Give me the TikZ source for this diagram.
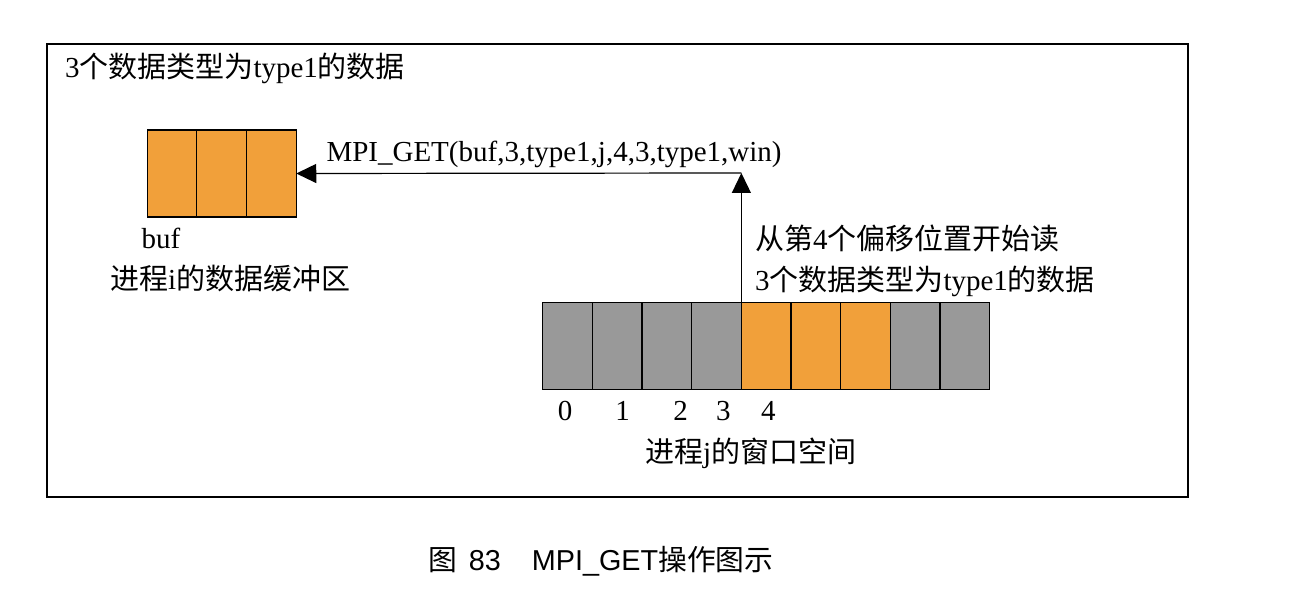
\documentclass[tikz,border=0pt]{standalone}
\usepackage{fontspec}
\setmainfont{Liberation Serif}
\newfontfamily\cjk{Noto Sans CJK SC}
\newfontfamily\capfont{Liberation Sans}
\usetikzlibrary{arrows.meta}
\definecolor{cellorange}{RGB}{241,160,58}
\definecolor{cellgray}{RGB}{153,153,153}
\tikzset{
  txt/.style={inner sep=0pt, outer sep=0pt, font=\fontsize{14.5pt}{17pt}\selectfont},
  captxt/.style={inner sep=0pt, outer sep=0pt, font=\fontsize{14.4pt}{17pt}\selectfont\capfont},
  bufcell/.style={draw=black, line width=0.6pt, fill=cellorange, minimum width=24.85pt, minimum height=43.5pt, inner sep=0pt, outer sep=0pt},
  wincell/.style={draw=black, line width=0.6pt, minimum width=24.83pt, minimum height=43.5pt, inner sep=0pt, outer sep=0pt},
  grey/.style={fill=cellgray},
  hot/.style={fill=cellorange},
  frame/.style={draw=black, line width=0.7pt},
  arr/.style={line width=0.6pt, -{Triangle[length=10pt,width=9.5pt]}}
}
\begin{document}
\begin{tikzpicture}[x=0.5pt,y=-0.5pt]
\useasboundingbox (0,0) rectangle (1290,598);
% outer frame
\draw[frame] (47,44) rectangle (1188,497);
% top-left text
\node[txt, anchor=base west] (title) at (65,78) {3{\cjk 个数据类型为}type1{\cjk 的数据}};
% buffer of process i
\node[bufcell] (b1) at (172,173.5) {};
\node[bufcell] (b2) at (221.7,173.5) {};
\node[bufcell] (b3) at (271.4,173.5) {};
\node[txt, anchor=base west] (buflbl) at (141.5,248.5) {buf};
\node[txt, anchor=base west] (bufcap) at (110,290) {{\cjk 进程}i{\cjk 的数据缓冲区}};
% window of process j
\foreach \i/\s in {0/grey,1/grey,2/grey,3/grey,4/hot,5/hot,6/hot,7/grey,8/grey}{
  \node[wincell,\s] (w\i) at ({542.7+24.83+49.67*\i},346.3) {};
}
\node[txt, anchor=base] (n0) at (565,421) {0};
\node[txt, anchor=base] (n1) at (622.7,421) {1};
\node[txt, anchor=base] (n2) at (680.7,421) {2};
\node[txt, anchor=base] (n3) at (723.3,421) {3};
\node[txt, anchor=base] (n4) at (768.3,421) {4};
\node[txt, anchor=base west] (wincap) at (645,463) {{\cjk 进程}j{\cjk 的窗口空间}};
% arrows
\coordinate (corner) at (w4.north west |- 0,173);
\draw[arr] (w4.north west) -- (corner);
\draw[arr] (corner) -- (b3.east);
\node[txt, anchor=base west] (call) at (326.5,162) {MPI\_GET(buf,3,type1,j,4,3,type1,win)};
\node[txt, anchor=base west] (note1) at (755,250) {{\cjk 从第}4{\cjk 个偏移位置开始读}};
\node[txt, anchor=base west] (note2) at (755,291) {3{\cjk 个数据类型为}type1{\cjk 的数据}};
% caption
\node[captxt, anchor=base west] (caption) at (428,570) {{\cjk 图}\hspace{6pt}83\hspace{15.5pt}MPI\_GET{\cjk 操作图示}};
\end{tikzpicture}
\end{document}
